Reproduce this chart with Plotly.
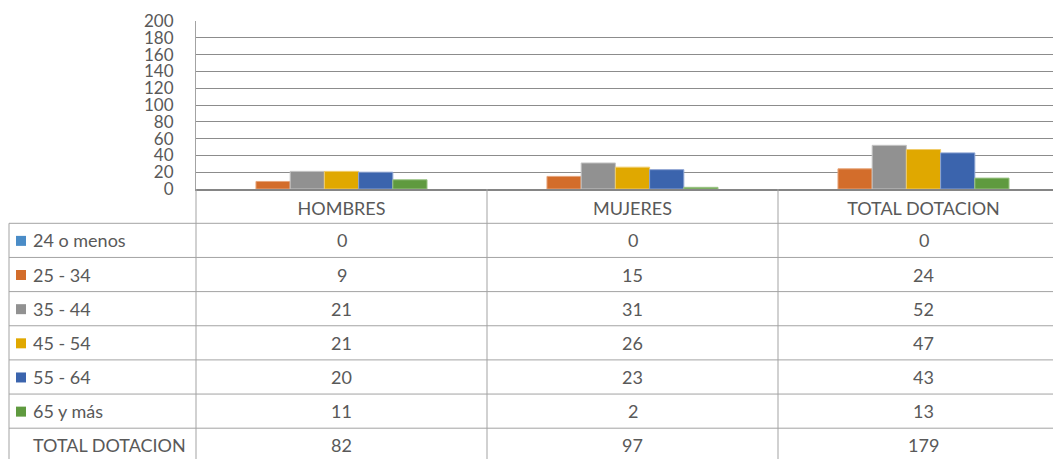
import plotly.graph_objects as go

# ---------------- data ----------------
categories = ["HOMBRES", "MUJERES", "TOTAL DOTACION"]
series_names = ["24 o menos", "25 - 34", "35 - 44", "45 - 54", "55 - 64", "65 y más"]
v_24_o_menos = [0, 0, 0]
v_25_34 = [9, 15, 24]
v_35_44 = [21, 31, 52]
v_45_54 = [21, 26, 47]
v_55_64 = [20, 23, 43]
v_65_mas = [11, 2, 13]
total_label = "TOTAL DOTACION"
total_dotacion = [82, 97, 179]
y_ticks = [0, 20, 40, 60, 80, 100, 120, 140, 160, 180, 200]

series_values = [v_24_o_menos, v_25_34, v_35_44, v_45_54, v_55_64, v_65_mas]
colors = ["#4A8CC7", "#D36D2B", "#919191", "#E0A800", "#3B64AD", "#5F9A3F"]
edge_colors = ["#8AB6DE", "#E6A47A", "#C4C4C4", "#F0CC6A", "#8BA3D2", "#9CC487"]

# ---------------- layout geometry (pixels, page offset 8px by body margin) ----------------
OFF = 8
W, H = 1061 - OFF, 459 - OFF
ML, MT = 196 - OFF, 21 - OFF
PLOT_H = 168
MB = H - MT - PLOT_H
PLOT_W = W - ML
CAT_PX = 291.0
ZERO_PX = MT + PLOT_H

def px_to_py(py):
    return (ZERO_PX - py) / PLOT_H

def px_to_px(px):
    return (px - ML) / PLOT_W

TEXT = "#595959"
GRID = "#8C8C8C"
BORDER = "#A3A3A3"
FONT = "Lato"
FS = 18
FS_TICK = 17

fig = go.Figure()
for name, vals, col, ec in zip(series_names, series_values, colors, edge_colors):
    lw = 1 if max(vals) > 0 else 0
    fig.add_trace(go.Bar(x=categories, y=vals, name=name,
                         marker=dict(color=col, line=dict(color=ec, width=lw))))
# total series occupies a slot but is not drawn
fig.add_trace(go.Bar(x=categories, y=total_dotacion, name=total_label,
                     marker=dict(color="rgba(0,0,0,0)", line=dict(width=0)),
                     hoverinfo="skip"))

x_end = -0.5 + PLOT_W / CAT_PX

fig.update_layout(
    width=W, height=H,
    margin=dict(l=ML, r=0, t=MT, b=MB, pad=0),
    paper_bgcolor="white", plot_bgcolor="white",
    showlegend=False,
    barmode="group", bargap=0.177, bargroupgap=0,
    font=dict(family=FONT, size=FS, color=TEXT),
    xaxis=dict(range=[-0.5, x_end], showgrid=False, zeroline=False,
               showline=True, linecolor="#858585", linewidth=2,
               ticks="", tickfont=dict(size=FS, color=TEXT, family=FONT),
               ticklabelstandoff=2, fixedrange=True),
    yaxis=dict(range=[0, 200], tickvals=y_ticks, showgrid=True,
               gridcolor=GRID, gridwidth=1, zeroline=False,
               showline=True, linecolor=BORDER, linewidth=1,
               ticks="", tickfont=dict(size=FS_TICK, color=TEXT, family=FONT),
               ticklabelstandoff=18, fixedrange=True),
)

# ---------------- data table ----------------
TABLE_TOP = 223.3 - OFF
ROW_H = 34.15
LEFT_X = 9 - OFF
row_labels = series_names + [total_label]
row_values = series_values + [total_dotacion]
n_rows = len(row_labels)

shapes = []
for i in range(n_rows + 1):
    y = px_to_py(TABLE_TOP + i * ROW_H)
    shapes.append(dict(type="line", xref="paper", yref="paper",
                       x0=px_to_px(LEFT_X), x1=1.0, y0=y, y1=y,
                       line=dict(color=BORDER, width=1)))
y_bottom = px_to_py(TABLE_TOP + n_rows * ROW_H + 5)
shapes.append(dict(type="line", xref="paper", yref="paper",
                   x0=px_to_px(LEFT_X), x1=px_to_px(LEFT_X),
                   y0=px_to_py(TABLE_TOP), y1=y_bottom,
                   line=dict(color=BORDER, width=1)))
shapes.append(dict(type="line", xref="paper", yref="paper",
                   x0=0, x1=0, y0=0, y1=y_bottom,
                   line=dict(color=BORDER, width=1)))
for k in range(1, len(categories)):
    xp = px_to_px(ML + k * CAT_PX)
    shapes.append(dict(type="line", xref="paper", yref="paper",
                       x0=xp, x1=xp, y0=0, y1=y_bottom,
                       line=dict(color=BORDER, width=1)))

annotations = []
for i, (lab, vals) in enumerate(zip(row_labels, row_values)):
    yc = TABLE_TOP + (i + 0.5) * ROW_H
    if i < len(colors):
        shapes.append(dict(type="rect", xref="paper", yref="paper",
                           x0=px_to_px(16 - OFF), x1=px_to_px(26 - OFF),
                           y0=px_to_py(yc - 4.5), y1=px_to_py(yc + 5.5),
                           fillcolor=colors[i], line=dict(width=0)))
    annotations.append(dict(text=lab, xref="paper", yref="paper",
                            x=px_to_px(31 - OFF), y=px_to_py(yc), xanchor="left",
                            yanchor="middle", showarrow=False,
                            font=dict(size=FS, color=TEXT, family=FONT)))
    for j, v in enumerate(vals):
        annotations.append(dict(text=str(v), xref="x", yref="paper",
                                x=j, y=px_to_py(yc), xanchor="center",
                                yanchor="middle", showarrow=False,
                                font=dict(size=FS, color=TEXT, family=FONT)))

fig.update_layout(shapes=shapes, annotations=annotations)
fig.write_html("out.html")
